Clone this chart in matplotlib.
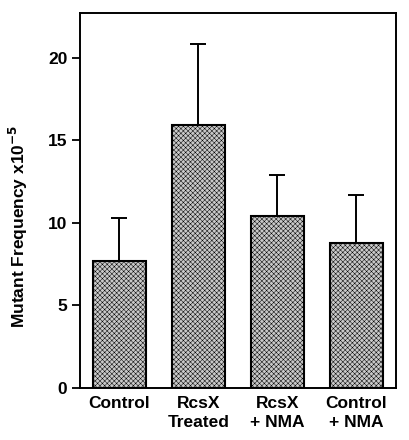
import matplotlib
matplotlib.use("Agg")
import matplotlib.pyplot as plt
import numpy as np

plt.rcParams["font.family"] = ["Liberation Sans", "DejaVu Sans"]
plt.rcParams["font.weight"] = "bold"
plt.rcParams["hatch.linewidth"] = 0.35
plt.rcParams["hatch.color"] = "#6a6a6a"

# ── 数据 ──
categories = ["Control", "RcsX\nTreated", "RcsX\n+ NMA", "Control\n+ NMA"]
means = [7.7, 15.9, 10.4, 8.75]
errors = [2.6, 4.9, 2.5, 2.95]
yticks = [0, 5, 10, 15, 20]

fig = plt.figure(figsize=(4.1, 4.4), dpi=100)
ax = fig.add_axes([80 / 410, 52 / 440, 316 / 410, 375 / 440])

x = np.arange(len(categories))
ax.bar(x, means, width=0.67, color="#c9c9c9", edgecolor="black",
       linewidth=1.5, hatch="xxxxxxx", zorder=2)
ax.errorbar(x, means, yerr=[np.zeros(len(errors)), errors], fmt="none",
            ecolor="black", elinewidth=1.4, capsize=6, capthick=1.4, zorder=1)

ax.set_xlim(-0.5, 3.5)
ax.set_ylim(0, 22.7)
ax.set_yticks(yticks)
ax.set_yticklabels([str(t) for t in yticks], fontsize=12.5, fontweight="bold")
ax.set_xticks(x)
ax.set_xticklabels(categories, fontsize=12.5, fontweight="bold", linespacing=1.3)
ax.tick_params(axis="x", length=0, pad=6)
ax.tick_params(axis="y", length=6, width=1.3, direction="out", pad=3)
for s in ax.spines.values():
    s.set_linewidth(1.4)

ax.set_ylabel("Mutant Frequency x10$^{\\mathbf{-5}}$", fontsize=12.5,
              fontweight="bold")
ax.yaxis.set_label_coords(-0.158, 0.43)

fig.savefig("out.png", dpi=100, facecolor="white")
